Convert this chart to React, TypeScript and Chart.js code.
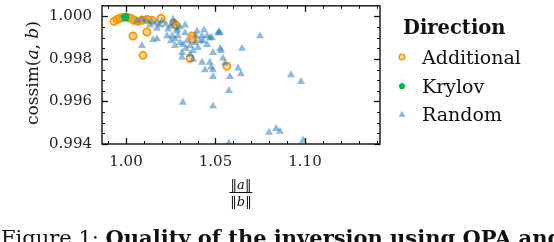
import React, { useEffect, useRef } from "react";
import { Chart, registerables } from "chart.js";
Chart.register(...registerables);

// ---- data ----
const additionalX = [0.9933, 0.995, 0.9966, 0.9983, 1.0011, 1.0028, 1.0045, 1.0067, 1.0089, 1.0117, 1.0145, 1.0196, 1.0039, 1.0117, 1.0095, 1.0268, 1.0279, 1.0369, 1.0374, 1.0358, 1.0564];
const additionalY = [0.99977, 0.99986, 0.99991, 0.99995, 0.99995, 0.99991, 0.99982, 0.99977, 0.99982, 0.99986, 0.99982, 0.99991, 0.99908, 0.99927, 0.99817, 0.99968, 0.99959, 0.99908, 0.99894, 0.99803, 0.99766];

const krylovX = [1.0, 0.9994];
const krylovY = [1.0, 0.99998];

const randomX = [1.0061, 1.0089, 1.0112, 1.0145, 1.0173, 1.0201, 1.0223, 1.0251, 1.0268, 1.0285, 1.0173, 1.0089, 1.0229, 1.0251, 1.0263, 1.0285, 1.033, 1.0341, 1.0318, 1.0397, 1.0436, 1.0425, 1.043, 1.0469, 1.048, 1.052, 1.0525, 1.0374, 1.0313, 1.0313, 1.0525, 1.0648, 1.0486, 1.0542, 1.0274, 1.0257, 1.0425, 1.0374, 1.0441, 1.0475, 1.0486, 1.0486, 1.0553, 1.0626, 1.0581, 1.0642, 1.0575, 1.0749, 1.0922, 1.0978, 1.0318, 1.0486, 1.0799, 1.0838, 1.086, 1.0989, 1.0575, 1.0358, 1.0274, 1.0151, 1.019, 1.0134, 1.0235, 1.0302, 1.033, 1.0385, 1.0402, 1.0453, 1.0453, 1.0514, 1.0413, 1.0469, 1.0531, 1.0302, 1.0335, 1.0358, 1.0291, 1.0391, 1.0173];
const randomY = [0.99977, 0.99986, 0.99982, 0.99977, 0.99968, 0.99977, 0.99963, 0.99954, 0.99968, 0.9994, 0.99894, 0.99862, 0.99908, 0.99885, 0.99986, 0.99931, 0.99922, 0.99885, 0.99867, 0.99931, 0.99936, 0.99908, 0.99885, 0.99899, 0.99899, 0.99927, 0.99922, 0.99839, 0.9983, 0.99807, 0.99849, 0.99849, 0.9983, 0.99803, 0.99862, 0.99908, 0.99784, 0.99798, 0.99748, 0.99761, 0.99748, 0.99716, 0.9978, 0.99757, 0.99716, 0.99729, 0.99651, 0.99908, 0.99725, 0.99693, 0.99596, 0.99578, 0.99454, 0.99472, 0.99459, 0.99417, 0.99404, 0.99862, 0.99894, 0.9989, 0.99959, 0.99959, 0.9994, 0.9995, 0.99959, 0.99876, 0.99853, 0.99867, 0.99908, 0.99922, 0.99885, 0.99784, 0.99839, 0.99876, 0.99849, 0.99821, 0.99908, 0.99908, 0.99945];

const xMajorTicks = [1.0, 1.05, 1.1];
const xMinorTicks = [0.99, 1.0, 1.01, 1.02, 1.03, 1.04, 1.05, 1.06, 1.07, 1.08, 1.09, 1.1, 1.11, 1.12, 1.13, 1.14];
const yMajorTicks = [0.994, 0.996, 0.998, 1.0];
const yMinorTicks = [0.994, 0.9945, 0.995, 0.9955, 0.996, 0.9965, 0.997, 0.9975, 0.998, 0.9985, 0.999, 0.9995, 1.0];

const X_MIN = 0.9866;
const X_MAX = 1.1419;
const Y_MIN = 0.994;
const Y_MAX = 1.0005;

const ORANGE = "#ff9500";
const GREEN = "#12b04c";
const BLUE_A = "rgba(31,119,180,0.5)";
const FONT = "'DejaVu Serif', serif";

function pairs(xs: number[], ys: number[]) {
  return xs.map((x, i) => ({ x, y: ys[i] }));
}

function makePentagon(size: number, color: string) {
  const c = document.createElement("canvas");
  c.width = size;
  c.height = size;
  const ctx = c.getContext("2d")!;
  const r = size / 2;
  ctx.beginPath();
  for (let i = 0; i < 5; i++) {
    const a = -Math.PI / 2 + (i * 2 * Math.PI) / 5;
    const px = r + r * Math.cos(a);
    const py = r + 0.5 + r * Math.sin(a);
    if (i === 0) ctx.moveTo(px, py);
    else ctx.lineTo(px, py);
  }
  ctx.closePath();
  ctx.fillStyle = color;
  ctx.fill();
  return c;
}

const framePlugin = {
  id: "frameTicks",
  afterDatasetsDraw(chart: any) {
    const { ctx, chartArea } = chart;
    const xs = chart.scales.x;
    const ys = chart.scales.y;
    const { left, right, top, bottom } = chartArea;
    ctx.save();
    ctx.strokeStyle = "#111";
    ctx.lineWidth = 1;
    const tick = (x1: number, y1: number, x2: number, y2: number) => {
      ctx.beginPath();
      ctx.moveTo(x1, y1);
      ctx.lineTo(x2, y2);
      ctx.stroke();
    };
    xMinorTicks.forEach((v) => {
      const p = Math.round(xs.getPixelForValue(v)) + 0.5;
      if (p < left || p > right) return;
      tick(p, bottom, p, bottom - 3);
      tick(p, top, p, top + 3);
    });
    yMinorTicks.forEach((v) => {
      const p = Math.round(ys.getPixelForValue(v)) + 0.5;
      tick(left, p, left + 3, p);
      tick(right, p, right - 3, p);
    });
    ctx.lineWidth = 1.3;
    xMajorTicks.forEach((v) => {
      const p = Math.round(xs.getPixelForValue(v)) + 0.5;
      tick(p, bottom, p, bottom - 6);
      tick(p, top, p, top + 6);
    });
    yMajorTicks.forEach((v) => {
      const p = Math.round(ys.getPixelForValue(v)) + 0.5;
      tick(left, p, left + 6, p);
      tick(right, p, right - 6, p);
    });
    ctx.lineWidth = 1.4;
    ctx.strokeRect(left, top, right - left, bottom - top);
    ctx.restore();
  },
};

export default function App() {
  const ref = useRef<HTMLCanvasElement>(null);
  useEffect(() => {
    if (!ref.current) return;
    const pent = makePentagon(9, GREEN);
    const chart = new Chart(ref.current, {
      type: "scatter",
      data: {
        datasets: [
          {
            label: "Additional",
            data: pairs(additionalX, additionalY),
            pointStyle: "circle",
            pointRadius: 3.6,
            backgroundColor: "rgba(255,190,90,0.55)",
            borderColor: ORANGE,
            borderWidth: 1.8,
            order: 2,
          },
          {
            label: "Krylov",
            data: pairs(krylovX, krylovY),
            pointStyle: pent as any,
            pointRadius: 4.5,
            backgroundColor: GREEN,
            borderColor: GREEN,
            order: 1,
          },
          {
            label: "Random",
            data: pairs(randomX, randomY),
            pointStyle: "triangle",
            pointRadius: 4.6,
            backgroundColor: BLUE_A,
            borderColor: "rgba(31,119,180,0.0)",
            borderWidth: 0,
            order: 0,
          },
        ],
      },
      options: {
        animation: false,
        responsive: false,
        layout: { padding: { left: 0, right: 174, top: 2, bottom: 0 } },
        plugins: { legend: { display: false }, tooltip: { enabled: false } },
        scales: {
          x: {
            type: "linear",
            min: X_MIN,
            max: X_MAX,
            grid: { display: false, drawTicks: false },
            border: { display: false },
            afterBuildTicks: (s: any) => {
              s.ticks = xMajorTicks.map((v) => ({ value: v }));
            },
            afterFit: (s: any) => {
              s.height = 98;
              s.paddingLeft = 0;
              s.paddingRight = 0;
            },
            ticks: {
              padding: 9,
              color: "#222",
              font: { family: FONT, size: 15 },
              callback: (v: any) => Number(v).toFixed(2),
              maxRotation: 0,
              autoSkip: false,
            },
          },
          y: {
            type: "linear",
            min: Y_MIN,
            max: Y_MAX,
            grid: { display: false, drawTicks: false },
            border: { display: false },
            afterBuildTicks: (s: any) => {
              s.ticks = yMajorTicks.map((v) => ({ value: v }));
            },
            afterFit: (s: any) => {
              s.width = 102;
              s.paddingTop = 0;
              s.paddingBottom = 0;
            },
            ticks: {
              padding: 10,
              color: "#222",
              font: { family: FONT, size: 15 },
              callback: (v: any) => Number(v).toFixed(3),
              autoSkip: false,
            },
          },
        },
      },
      plugins: [framePlugin],
    });
    return () => chart.destroy();
  }, []);

  const txt: React.CSSProperties = { position: "absolute", fontFamily: FONT, color: "#111", whiteSpace: "nowrap" };
  return (
    <div style={{ position: "absolute", left: 0, top: 0, width: 554, height: 242, overflow: "hidden", background: "#fff" }}>
      <canvas ref={ref} width={554} height={242} style={{ position: "absolute", left: 0, top: 0 }} />
      {/* y-axis title */}
      <div style={{ ...txt, left: 32, top: 73, fontSize: 17, lineHeight: "20px", transform: "translate(-50%,-50%) rotate(-90deg)" }}>
        cossim(<i>a</i>, <i>b</i>)
      </div>
      {/* x-axis title fraction */}
      <div style={{ ...txt, left: 241, top: 177, transform: "translateX(-50%)", fontSize: 13, lineHeight: "15px", textAlign: "center" }}>
        <div style={{ padding: "0 1px" }}>‖<i>a</i>‖</div>
        <div style={{ borderTop: "1px solid #111", padding: "1px 1px 0" }}>‖<i>b</i>‖</div>
      </div>
      {/* legend */}
      <div style={{ ...txt, left: 403, top: 17, fontSize: 19.5, lineHeight: "22px", fontWeight: "bold" }}>Direction</div>
      {[
        { label: "Additional", y: 57, kind: "o" },
        { label: "Krylov", y: 86, kind: "p" },
        { label: "Random", y: 114, kind: "t" },
      ].map((it) => (
        <React.Fragment key={it.label}>
          <svg style={{ position: "absolute", left: 397, top: it.y - 5 }} width={10} height={10}>
            {it.kind === "o" && <circle cx={5} cy={5} r={2.8} fill="rgba(255,190,90,0.55)" stroke={ORANGE} strokeWidth={1.5} />}
            {it.kind === "p" && <polygon points="5,1.5 8.3,4 7.1,8 2.9,8 1.7,4" fill={GREEN} />}
            {it.kind === "t" && <polygon points="5,1.8 8.4,7.8 1.6,7.8" fill="rgba(31,119,180,0.55)" />}
          </svg>
          <div style={{ ...txt, left: 422, top: it.y - 11, fontSize: 19, lineHeight: "22px" }}>{it.label}</div>
        </React.Fragment>
      ))}
      {/* caption */}
      <div style={{ ...txt, left: 1, top: 227, fontSize: 21, lineHeight: "22px" }}>
        Figure 1: <b>Quality of the inversion using OPA and</b>
      </div>
    </div>
  );
}
